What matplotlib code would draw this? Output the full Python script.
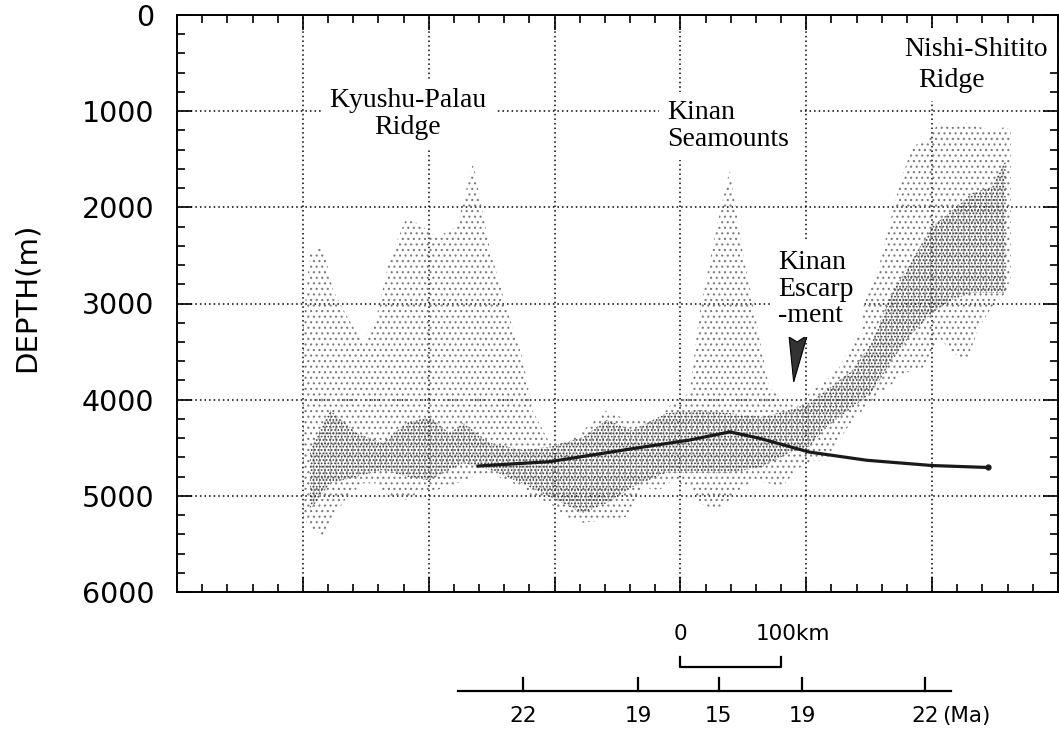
import matplotlib
matplotlib.use("Agg")
import matplotlib.pyplot as plt
from matplotlib.patches import Polygon
from matplotlib.ticker import MultipleLocator

# bathymetric profile, x = distance along track (km), y = depth (m)
# outer envelope of the sounding cloud (shallowest / deepest soundings)
cloud_km = [125, 132, 145, 155, 169, 185, 198, 211, 228, 244, 258, 278, 294,
            311, 327, 343, 353, 370, 387, 403, 427, 446, 462, 479, 492, 509,
            519, 536, 549, 561, 575, 588, 601, 615, 631, 645, 658, 671, 684,
            697, 707, 717, 730, 744, 757, 770, 784, 797, 809, 823, 828]
cloud_top = [3280, 2475, 2410, 2860, 3140, 3410, 3140, 2550, 2100, 2200, 2310,
             2200, 1540, 2440, 3040, 3560, 4110, 4450, 4450, 4320, 4110, 4210,
             4210, 4180, 4035, 3930, 3100, 2200, 1610, 2410, 3170, 3870, 4000,
             4080, 3900, 3800, 3660, 3410, 2960, 2620, 2200, 1790, 1370, 1300,
             1120, 1165, 1120, 1165, 1200, 1165, 1200]
cloud_bot = [5220, 5325, 5430, 5220, 5010, 4870, 4870, 5010, 5040, 4940, 4940,
             4870, 4800, 4760, 4840, 4910, 5010, 5075, 5220, 5280, 5250, 5220,
             4910, 4940, 4840, 4910, 5075, 5150, 5040, 4910, 4840, 4870, 4910,
             4730, 4630, 4630, 4420, 4210, 4080, 3930, 3870, 3765, 3690, 3660,
             3350, 3515, 3590, 3245, 3040, 2890, 2725]

# darker band where the soundings are densest
core_km = [132, 152, 179, 204, 228, 251, 271, 284, 311, 343, 370, 403, 427,
           452, 486, 519, 549, 581, 608, 628, 645, 671, 690, 710, 730, 750,
           770, 790, 809, 823]
core_top = [4520, 4110, 4350, 4450, 4240, 4180, 4350, 4240, 4450, 4520, 4490,
            4390, 4210, 4320, 4140, 4110, 4140, 4180, 4110, 4035, 3900, 3690,
            3410, 2890, 2550, 2200, 2030, 1850, 1790, 1510]
core_bot = [5150, 4870, 4800, 4730, 4800, 4840, 4730, 4660, 4730, 4870, 5010,
            5180, 5075, 4910, 4760, 4760, 4760, 4700, 4555, 4490, 4285, 4080,
            3930, 3590, 3310, 3100, 2960, 2890, 2890, 2890]

# thick line
model_km = [299, 370, 452, 509, 549, 578, 628, 685, 750, 805]
model_depth = [4690, 4645, 4510, 4420, 4335, 4400, 4545, 4630, 4685, 4705]

# age scale under the profile
age_km = [344, 458, 538, 621, 743]
age_labels = ['22', '19', '15', '19', '22']
age_line_km = [279, 769]
scale_km = [500, 600]

fig = plt.figure(figsize=(10.59, 7.34), dpi=100)
ax = fig.add_axes([177 / 1059, 1 - 592 / 734, (1058 - 177) / 1059, (592 - 15) / 734])

plt.rcParams['hatch.linewidth'] = 0.8

ax.fill_between(cloud_km, cloud_top, cloud_bot, facecolor='none',
                edgecolor='#7a7a7a', hatch='...', linewidth=0, zorder=2)
ax.fill_between(core_km, core_top, core_bot, facecolor='none',
                edgecolor='#b5b5b5', hatch='|||', linewidth=0, zorder=2)
ax.fill_between(core_km, core_top, core_bot, facecolor='none',
                edgecolor='#3a3a3a', hatch='.....', linewidth=0, zorder=2)

ax.plot(model_km, model_depth, color='#1a1a1a', linewidth=2.3, zorder=4,
        marker='o', markersize=3.5, markevery=[len(model_km) - 1])

# escarpment arrow
arrow = Polygon([(608, 3350), (616, 3400), (626, 3330), (612.5, 3815)],
                closed=True, facecolor='#333333', edgecolor='black', linewidth=0.8, zorder=5)
ax.add_patch(arrow)

serif = 'Liberation Serif'
box = dict(boxstyle='square,pad=0.3', facecolor='white', edgecolor='none')
ax.text(229, 1030, 'Kyushu-Palau\nRidge', ha='center', va='center', multialignment='center',
        family=serif, fontsize=20, linespacing=1.1, bbox=box, zorder=6)
ax.text(487, 1154, 'Kinan\nSeamounts', ha='left', va='center', family=serif,
        fontsize=20, linespacing=1.1, bbox=box, zorder=6)
ax.text(597, 2850, 'Kinan\nEscarp\n-ment', ha='left', va='center', family=serif,
        fontsize=20, linespacing=1.1, bbox=box, zorder=6)
ax.text(794, 354, 'Nishi-Shitito', ha='center', va='center', family=serif,
        fontsize=20, bbox=box, zorder=6)
ax.text(769, 676, 'Ridge', ha='center', va='center', family=serif,
        fontsize=20, bbox=box, zorder=6)

ax.set_xlim(0, 875)
ax.set_ylim(6000, 0)
ax.xaxis.set_major_locator(MultipleLocator(125))
ax.xaxis.set_minor_locator(MultipleLocator(25))
ax.yaxis.set_major_locator(MultipleLocator(1000))
ax.yaxis.set_minor_locator(MultipleLocator(200))
ax.tick_params(which='both', direction='in', top=True, right=True, width=1.2,
               labelbottom=False, labelsize=20.5, pad=16.5)
ax.tick_params(which='major', length=11)
ax.tick_params(which='minor', length=5.5)
ax.grid(True, which='major', color='black', linestyle=(0, (1, 2)), linewidth=1.1)
ax.set_axisbelow(True)
for s in ax.spines.values():
    s.set_linewidth(1.4)

fig.text(27 / 1059, 1 - 297 / 734, 'DEPTH(m)', rotation=90, ha='center', va='center', fontsize=21)

# 100 km scale bar
ax.text(scale_km[0], 6438, '0', ha='center', va='center', fontsize=15.5, clip_on=False)
ax.text(scale_km[1] - 25, 6438, '100km', ha='left', va='center', fontsize=15.5, clip_on=False)
ax.plot([scale_km[0], scale_km[0], scale_km[1], scale_km[1]], [6677, 6781, 6781, 6677],
        color='black', linewidth=1.6, clip_on=False)

# age axis
ax.plot(age_line_km, [7030, 7030], color='black', linewidth=1.6, clip_on=False)
for k, lab in zip(age_km, age_labels):
    ax.plot([k, k], [7030, 6890], color='black', linewidth=1.6, clip_on=False)
    ax.text(k, 7290, lab, ha='center', va='center', fontsize=15.5, clip_on=False)
ax.text(760, 7290, '(Ma)', ha='left', va='center', fontsize=15.5, clip_on=False)

fig.savefig('out.png', dpi=100)
